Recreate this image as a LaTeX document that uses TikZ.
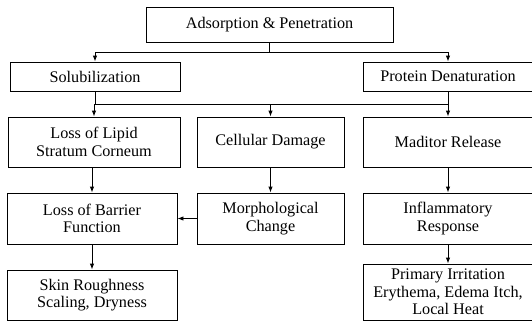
\documentclass[tikz,border=0pt]{standalone}
\usepackage{fontspec}
\setmainfont{Liberation Serif}
\usepackage{tikz}
\usetikzlibrary{arrows.meta, positioning, calc}

\begin{document}
\begin{tikzpicture}[
  x=1pt, y=-1pt,
  box/.style={draw, line width=0.9pt, align=center, inner sep=1pt, font=\fontsize{16.2}{17.5}\selectfont},
  link/.style={line width=0.9pt},
  arr/.style={-{Latex[length=6pt, width=4.5pt]}, line width=0.9pt}
]
\useasboundingbox (0,0) rectangle (532,322);
\def\hsmall{29pt}
\def\hbig{50pt}

\node[box, minimum width=247pt, minimum height=35pt] (adsorb) at (269.5,24.5) {Adsorption \& Penetration};

\node[box, minimum width=170pt, minimum height=\hsmall] (solub)   at (95,76.5)  {Solubilization};
\node[box, minimum width=170pt, minimum height=\hsmall] (protein) at (448,76.5) {Protein Denaturation};

\node[box, minimum width=172pt, minimum height=\hbig] (lipid)    at (94,142)    {Loss of Lipid\\Stratum Corneum};
\node[box, minimum width=147pt, minimum height=\hbig] (cellular) at (270.5,142) {Cellular Damage};
\node[box, minimum width=170pt, minimum height=\hbig] (maditor)  at (448,142)   {Maditor Release};

\node[box, minimum width=170pt, minimum height=51pt] (barrier) at (92,218.5)    {Loss of Barrier\\Function};
\node[box, minimum width=147pt, minimum height=51pt] (morph)   at (270.5,218.5) {Morphological\\Change};
\node[box, minimum width=170pt, minimum height=51pt] (inflam)  at (448,218.5)   {Inflammatory\\Response};

\node[box, minimum width=170pt, minimum height=\hbig] (skin)    at (92,295)  {Skin Roughness\\Scaling, Dryness};
\node[box, minimum width=170pt, minimum height=56pt]  (primary) at (448,292) {Primary Irritation\\Erythema, Edema Itch,\\Local Heat};

% first split
\coordinate (bus1) at (0,52);
\draw[link] (adsorb.south) -- (adsorb.south |- bus1);
\draw[link] (solub.north |- bus1) -- (protein.north |- bus1);
\foreach \n in {solub, protein}
  \draw[arr] (\n.north |- bus1) -- (\n.north);

% second split
\coordinate (bus2) at (0,104);
\foreach \n in {solub, protein}
  \draw[link] (\n.south) -- (\n.south |- bus2);
\draw[link] (solub.south |- bus2) -- (protein.south |- bus2);
\foreach \n in {lipid, cellular, maditor}
  \draw[arr] (\n.north |- bus2) -- (\n.north);

% columns
\draw[arr] (barrier.north |- lipid.south) -- (barrier.north);
\draw[arr] (cellular) -- (morph);
\draw[arr] (maditor) -- (inflam);
\draw[arr] (morph) -- (barrier);
\draw[arr] (barrier) -- (skin);
\draw[arr] (inflam) -- (primary);

\end{tikzpicture}
\end{document}
